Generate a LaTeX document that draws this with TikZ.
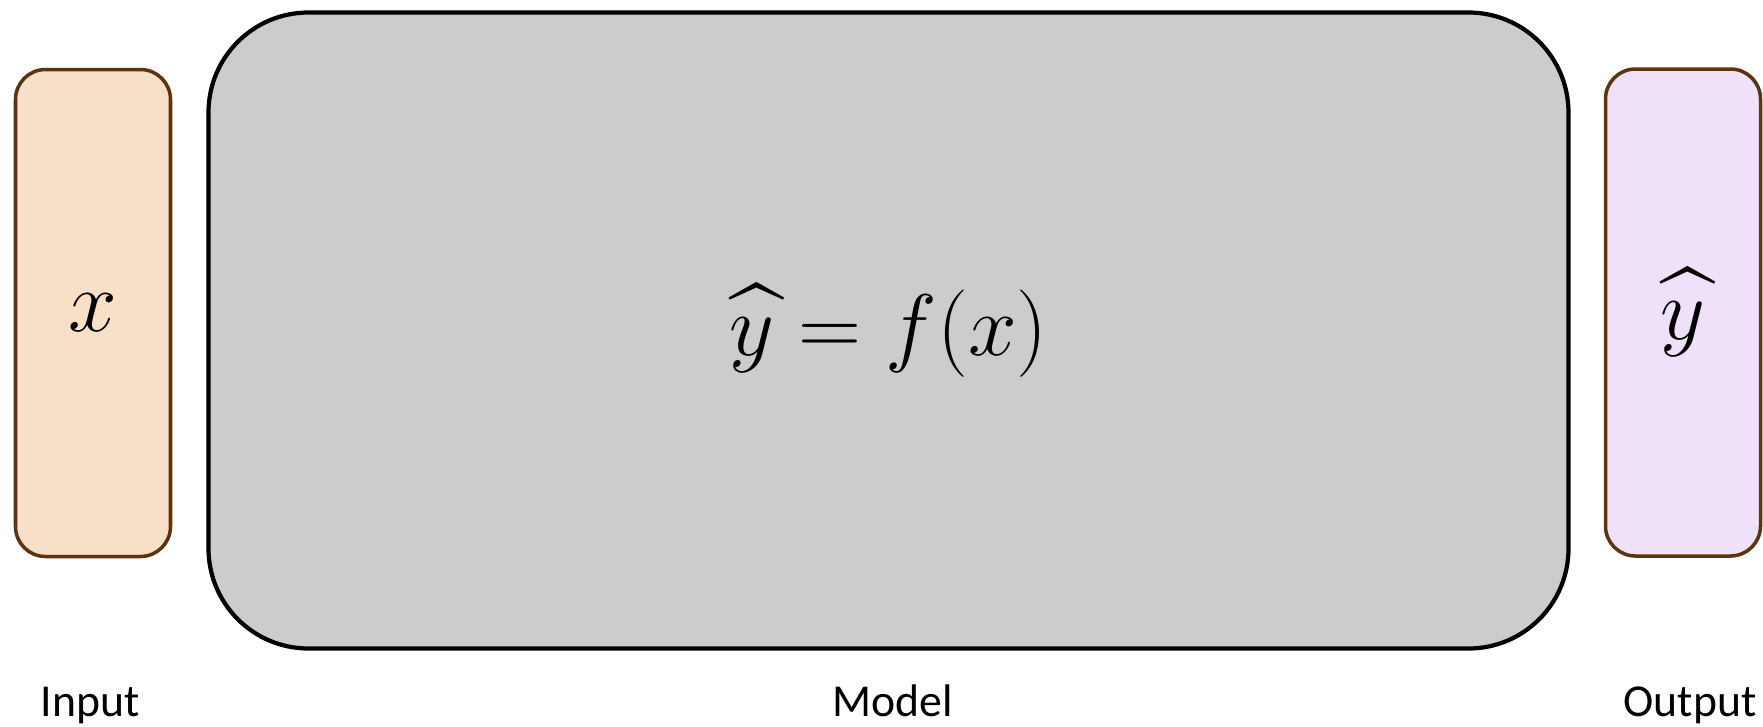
\documentclass[tikz,border=0pt]{standalone}
\usepackage{amsmath,amssymb}
\usepackage{fontspec}
\setmainfont{Carlito}
\usepackage{tikz}
\usetikzlibrary{positioning}
\definecolor{inpeach}{RGB}{248,223,200}
\definecolor{outlilac}{RGB}{239,225,250}
\definecolor{edgebrown}{RGB}{94,52,16}
\definecolor{modelgray}{RGB}{204,204,204}
\tikzset{vecbox/.style = {draw=edgebrown, line width=1pt, rounded corners=0.3cm,
    minimum width=1.55cm, minimum height=4.87cm, inner sep=0,
    font=\fontsize{28}{32}\selectfont}}
\tikzset{modelbox/.style = {draw=black, fill=modelgray, line width=1.2pt, rounded corners=1cm,
    minimum width=13.6cm, minimum height=6.36cm, inner sep=0,
    font=\fontsize{28}{32}\selectfont}}
\tikzset{caption/.style = {anchor=base, inner sep=0, font=\fontsize{13}{15}\selectfont}}

\begin{document}
\begin{tikzpicture}
    \useasboundingbox (0,0) rectangle (17.63,7.26);
    \node[vecbox, fill=inpeach] (inbox) at (0.93,4.13) {$x$};
    \node[modelbox] (model) at (8.885,3.955) {$\widehat{y} = f(x)$};
    \node[vecbox, fill=outlilac] (outbox) at (16.83,4.135) {$\widehat{y}$};

    \node[caption] (inlbl) at (0.90,0.10) {Input};
    \node[caption] (modellbl) at (8.93,0.10) {Model};
    \node[caption] (outlbl) at (16.90,0.10) {Output};
\end{tikzpicture}
\end{document}
